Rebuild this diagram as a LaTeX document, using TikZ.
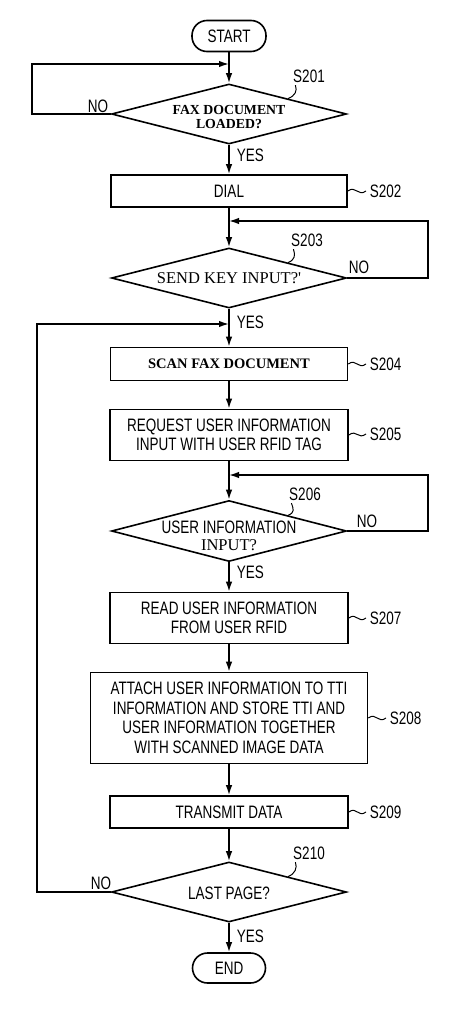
\documentclass[tikz,border=0pt]{standalone}
\usepackage{fontspec}
\setmainfont[FakeStretch=0.75]{Liberation Sans}
\newfontfamily\timesfont{Liberation Serif}
\usepackage{tikz}
\usetikzlibrary{calc,shapes,arrows,arrows.meta,fit,positioning}
\newcommand{\chartfont}{\fontsize{18}{19.5}\selectfont}
\newcommand{\boldserif}{\timesfont\bfseries\fontsize{13.8}{14}\selectfont}
\newcommand{\plainserif}{\timesfont\fontsize{16.5}{16}\selectfont}

\begin{document}
\begin{tikzpicture}[x=1pt,y=-1pt,line width=1.6pt,>={Latex[length=10pt,width=6.5pt]}]
	\tikzstyle{every node}+=[inner sep=0pt, font=\chartfont]
	\tikzstyle{terminal}=[draw, rectangle, rounded corners=15pt, minimum width=74pt, minimum height=31pt]
	\tikzstyle{process}=[draw, rectangle, align=center, minimum width=238pt]
	\tikzstyle{decision}=[draw, diamond, minimum width=235pt, minimum height=60pt]
	\tikzstyle{stepno}=[inner xsep=3pt, inner ysep=1pt]
	\tikzstyle{leader}=[line width=1pt]
	\useasboundingbox (0,0) rectangle (474,1011);
	% steps
	\node [terminal] (start) at (229,36) {START};
	\node [decision] (d201) at (229,114) {};
	\node [align=center, font=\boldserif] (t201) at (229,117) {FAX DOCUMENT\\LOADED?};
	\node [process, minimum width=236pt, minimum height=32pt] (b202) at (229,191) {DIAL};
	\node [decision] (d203) at (229,278) {};
	\node [font=\plainserif] (t203) at (229,278) {SEND KEY INPUT?'};
	\node [process, minimum width=237pt, minimum height=33pt, font={\boldserif\fontsize{14.5}{15}\selectfont}] (b204) at (229,364) {SCAN FAX DOCUMENT};
	\node [process, minimum height=51pt] (b205) at (229,435) {REQUEST USER INFORMATION\\INPUT WITH USER RFID TAG};
	\node [decision, minimum height=61pt] (d206) at (229,531) {};
	\node [align=center] (t206) at (229,536) {USER INFORMATION\\[-3pt]{\plainserif INPUT?}};
	\node [process, minimum height=51pt] (b207) at (229,618) {READ USER INFORMATION\\FROM USER RFID};
	\node [process, minimum width=277pt, minimum height=91pt] (b208) at (229,718) {ATTACH USER INFORMATION TO TTI\\INFORMATION AND STORE TTI AND\\USER INFORMATION TOGETHER\\WITH SCANNED IMAGE DATA};
	\node [process, minimum height=32pt] (b209) at (229,812) {TRANSMIT DATA};
	\node [decision] (d210) at (229,892) {};
	\node (t210) at (229,893) {LAST PAGE?};
	\node [terminal, minimum width=73pt, minimum height=30pt] (end) at (229,968) {END};
	% step numbers
	\node [stepno] (l201) at (309,76) {S201};
	\node [stepno, anchor=west] (l202) at (366,191) {S202};
	\node [stepno] (l203) at (307,240) {S203};
	\node [stepno, anchor=west] (l204) at (366,364) {S204};
	\node [stepno, anchor=west] (l205) at (366,434) {S205};
	\node [stepno] (l206) at (305,494) {S206};
	\node [stepno, anchor=west] (l207) at (366,618) {S207};
	\node [stepno, anchor=west] (l208) at (386,718) {S208};
	\node [stepno, anchor=west] (l209) at (366,812) {S209};
	\node [stepno] (l210) at (309,853) {S210};
	% yes / no
	\node [anchor=west] (y201) at (236,155) {YES};
	\node (n201) at (98,106) {NO};
	\node [anchor=west] (y203) at (236,322) {YES};
	\node (n203) at (359,267) {NO};
	\node [anchor=west] (y206) at (236,572) {YES};
	\node (n206) at (367,521) {NO};
	\node [anchor=west] (y210) at (236,936) {YES};
	\node (n210) at (101,883) {NO};
	% merge points and loop corners
	\coordinate (m201) at (229,64);
	\coordinate (c201) at (32,64);
	\coordinate (m203) at (229,221);
	\coordinate (c203) at (428,221);
	\coordinate (m210) at (229,324);
	\coordinate (c210) at (37,324);
	\coordinate (m206) at (229,475);
	\coordinate (c206) at (428,475);
	\coordinate (e201) at ($(d201.north)!0.5!(d201.east)$);
	\coordinate (e203) at ($(d203.north)!0.5!(d203.east)$);
	\coordinate (e206) at ($(d206.north)!0.5!(d206.east)$);
	\coordinate (e210) at ($(d210.north)!0.5!(d210.east)$);
	% main flow
	\draw [->] (start) -- (d201);
	\draw [->] (d201) -- (b202);
	\draw [->] (b202) -- (d203);
	\draw [->] (d203) -- (b204);
	\draw [->] (b204) -- (b205);
	\draw [->] (b205) -- (d206);
	\draw [->] (d206) -- (b207);
	\draw [->] (b207) -- (b208);
	\draw [->] (b208) -- (b209);
	\draw [->] (b209) -- (d210);
	\draw [->] (d210) -- (end);
	% loops
	\draw [->] (d201.west) -| (c201) -- (m201);
	\draw [->] (d203.east) -| (c203) -- (m203);
	\draw [->] (d206.east) -| (c206) -- (m206);
	\draw [->] (d210.west) -| (c210) -- (m210);
	% leaders
	\draw [leader] ($(l201.south west)+(6,1)$) .. controls +(2,6) and +(7,-3) .. (e201);
	\draw [leader] ($(l203.south west)+(6,1)$) .. controls +(2,6) and +(7,-3) .. (e203);
	\draw [leader] ($(l206.south west)+(6,1)$) .. controls +(2,6) and +(7,-3) .. (e206);
	\draw [leader] ($(l210.south west)+(6,1)$) .. controls +(2,6) and +(7,-3) .. (e210);
	\draw [leader] (b202.east) .. controls +(8,-6) and +(-8,6) .. (l202.west);
	\draw [leader] (b204.east) .. controls +(8,-6) and +(-8,6) .. (l204.west);
	\draw [leader] (b205.east) .. controls +(8,-6) and +(-8,6) .. (l205.west);
	\draw [leader] (b207.east) .. controls +(8,-6) and +(-8,6) .. (l207.west);
	\draw [leader] (b208.east) .. controls +(8,-6) and +(-8,6) .. (l208.west);
	\draw [leader] (b209.east) .. controls +(8,-6) and +(-8,6) .. (l209.west);
\end{tikzpicture}
\end{document}
